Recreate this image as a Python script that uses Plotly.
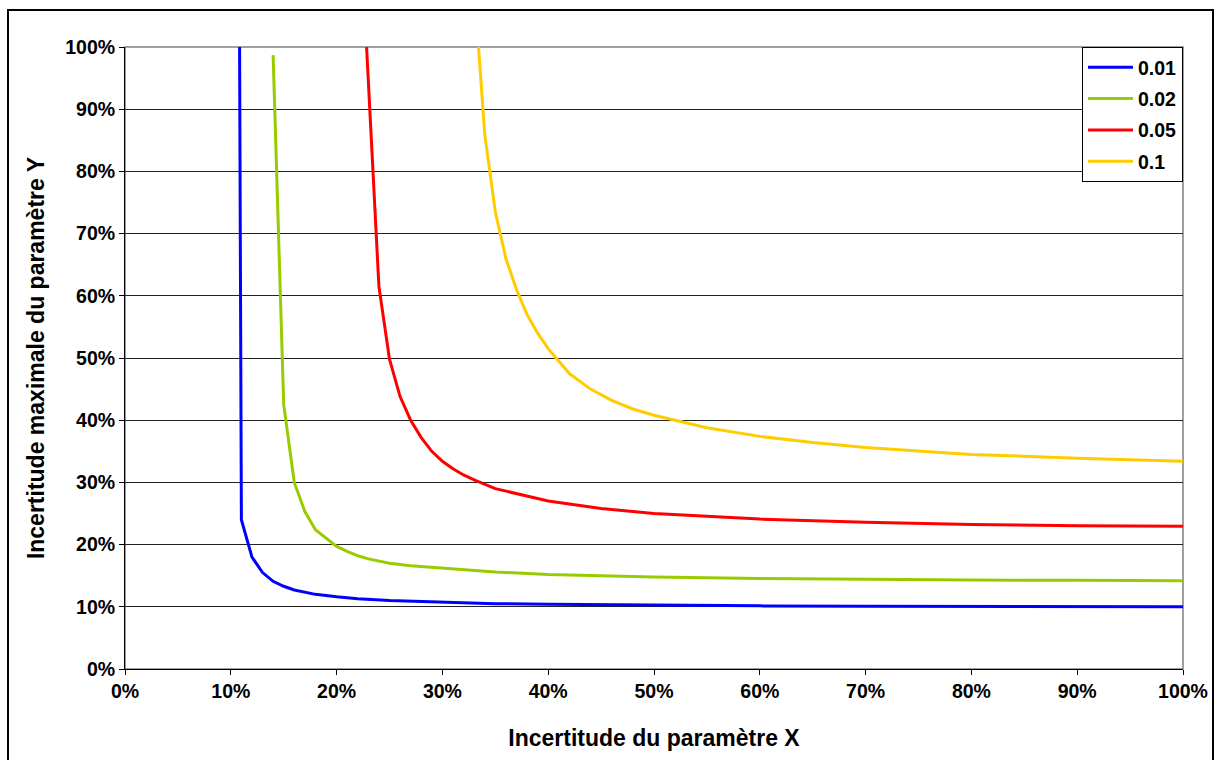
import plotly.graph_objects as go

# ---- data (X and Y as fractions) ----
names = ["0.01", "0.02", "0.05", "0.1"]
colors = ["#0000FF", "#99CC00", "#FF0000", "#FFCC00"]

x_001 = [0.108, 0.11, 0.12, 0.13, 0.14, 0.15, 0.16, 0.17, 0.18, 0.20, 0.22, 0.25, 0.30, 0.35, 0.40, 0.50, 0.60, 0.70, 0.80, 0.90, 1.00]
y_001 = [1.14, 0.240, 0.180, 0.155, 0.141, 0.133, 0.127, 0.123, 0.120, 0.116, 0.113, 0.110, 0.107, 0.105, 0.104, 0.1025, 0.1015, 0.101, 0.1005, 0.1003, 0.100]

x_002 = [0.14, 0.15, 0.16, 0.17, 0.18, 0.19, 0.20, 0.21, 0.22, 0.23, 0.25, 0.27, 0.30, 0.35, 0.40, 0.50, 0.60, 0.70, 0.80, 0.90, 1.00]
y_002 = [0.987, 0.425, 0.300, 0.253, 0.224, 0.210, 0.197, 0.189, 0.182, 0.177, 0.170, 0.166, 0.162, 0.156, 0.152, 0.148, 0.1455, 0.144, 0.143, 0.1425, 0.142]

x_005 = [0.225, 0.24, 0.25, 0.26, 0.27, 0.28, 0.29, 0.30, 0.31, 0.32, 0.33, 0.35, 0.40, 0.45, 0.50, 0.60, 0.70, 0.80, 0.90, 1.00]
y_005 = [1.11, 0.615, 0.498, 0.438, 0.400, 0.372, 0.350, 0.334, 0.322, 0.312, 0.304, 0.290, 0.270, 0.258, 0.250, 0.241, 0.236, 0.2325, 0.2305, 0.2295]

x_01 = [0.33, 0.34, 0.35, 0.36, 0.37, 0.38, 0.39, 0.40, 0.42, 0.44, 0.46, 0.48, 0.50, 0.55, 0.60, 0.65, 0.70, 0.75, 0.80, 0.90, 1.00]
y_01 = [1.10, 0.860, 0.735, 0.660, 0.610, 0.570, 0.540, 0.515, 0.475, 0.450, 0.432, 0.418, 0.408, 0.388, 0.374, 0.364, 0.356, 0.350, 0.345, 0.339, 0.334]

series_x = [x_001, x_002, x_005, x_01]
series_y = [y_001, y_002, y_005, y_01]

FONT = "Liberation Sans, Arial, sans-serif"

fig = go.Figure()
for n, c, xs, ys in zip(names, colors, series_x, series_y):
    fig.add_trace(go.Scatter(x=xs, y=ys, mode="lines", name=n, legendgroup=n,
                             line=dict(color=c, width=3), cliponaxis=True))

W, H = 1217, 760
L, R, T, B = 125, 1183, 47, 669
pw, ph = R - L, B - T

fig.update_layout(
    width=W, height=H,
    margin=dict(l=L, r=W - R, t=T, b=H - B, autoexpand=False),
    paper_bgcolor="white", plot_bgcolor="white",
    font=dict(family=FONT, size=19, color="black"),
    showlegend=True,
    legend=dict(x=1, y=1, xanchor="right", yanchor="top",
                bgcolor="white", bordercolor="black", borderwidth=1,
                font=dict(family=FONT, size=19.5, color="black", weight="bold"),
                tracegroupgap=3, traceorder="grouped", itemwidth=45),
    xaxis=dict(range=[0, 1], dtick=0.1, tick0=0, tickformat=".0%",
               showgrid=False, zeroline=False, showline=True, linecolor="black", linewidth=1,
               ticks="outside", ticklen=5, tickcolor="black",
               tickfont=dict(family=FONT, size=19.5, color="black", weight="bold"),
               title=dict(text="Incertitude du paramètre X", standoff=28,
                          font=dict(family=FONT, size=23, color="black", weight="bold"))),
    yaxis=dict(range=[0, 1], dtick=0.1, tick0=0, tickformat=".0%",
               showgrid=True, gridcolor="#222222", gridwidth=1, zeroline=False,
               showline=True, linecolor="black", linewidth=1,
               ticks="outside", ticklen=5, tickcolor="black",
               tickfont=dict(family=FONT, size=19.5, color="black", weight="bold"),
               title=dict(text="Incertitude maximale du paramètre Y", standoff=14,
                          font=dict(family=FONT, size=23, color="black", weight="bold"))),
    shapes=[
        # gray plot-area border (top/right)
        dict(type="rect", xref="paper", yref="paper", x0=0, y0=0, x1=1, y1=1,
             line=dict(color="#808080", width=1.5), layer="below"),
        # outer chart frame
        dict(type="rect", xref="paper", yref="paper",
             x0=(8 - L) / pw, x1=(1213 - L) / pw,
             y0=(B - 800) / ph, y1=(B - 10) / ph,
             line=dict(color="black", width=2)),
    ],
)

fig.write_html("out.html", config={"displayModeBar": False},
               post_script="document.body.style.margin='0';document.body.style.overflow='hidden';")
